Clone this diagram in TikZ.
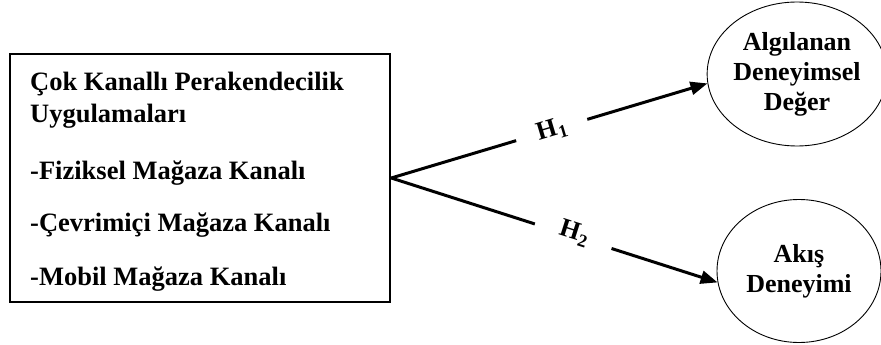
\documentclass[tikz,border=0pt]{standalone}
\usepackage{fontspec}
\setmainfont{Liberation Serif}
\usetikzlibrary{arrows.meta,shapes.geometric,calc}
\tikzset{
  txt/.style={font=\fontsize{26.5}{30}\selectfont\bfseries, inner sep=0pt, anchor=base west},
  boxframe/.style={draw, line width=2.5pt, minimum width=380pt, minimum height=248pt, inner sep=0pt},
  oval/.style={draw, ellipse, line width=0.9pt, inner sep=0pt, align=center,
    font=\fontsize{26}{30}\selectfont\bfseries},
  seg/.style={line width=3pt},
  conn/.style={line width=3pt, -{Triangle[length=17pt,width=13pt]}},
  hlab/.style={sloped, inner sep=0pt, font=\fontsize{26}{30}\selectfont\bfseries}
}
\newcommand{\hsub}[1]{H\kern0.5pt\raisebox{-5pt}{\fontsize{18}{18}\selectfont #1}}
\begin{document}
\begin{tikzpicture}[x=1pt,y=-1pt]
\useasboundingbox (0,0) rectangle (881,345);
\node[boxframe] (box) at (200,178) {};
\node[txt] (t1) at (30,90) {Çok Kanallı Perakendecilik};
\node[txt] (t2) at (30,122) {Uygulamaları};
\node[txt] (t3) at (30,179) {-Fiziksel Mağaza Kanalı};
\node[txt] (t4) at (30,231) {-Çevrimiçi Mağaza Kanalı};
\node[txt] (t5) at (30,285) {-Mobil Mağaza Kanalı};
\node[oval, minimum width=168pt, minimum height=144pt] (e1) at (797,74) {Algılanan\\Deneyimsel\\Değer};
\node[oval, minimum width=164pt, minimum height=143pt] (e2) at (799,271) {Akış\\Deneyimi};
\coordinate (g1a) at ($(box.east)!0.395!(e1.186)$);
\coordinate (g1b) at ($(box.east)!0.62!(e1.186)$);
\coordinate (g2a) at ($(box.east)!0.44!(e2.188)$);
\coordinate (g2b) at ($(box.east)!0.675!(e2.188)$);
\draw[seg] (box.east) -- (g1a);
\draw[conn] (g1b) -- (e1.186);
\draw[seg] (box.east) -- (g2a);
\draw[conn] (g2b) -- (e2.188);
\path (g1a) -- node[hlab] (h1) {\hsub{1}} (g1b);
\path (g2a) -- node[hlab, yshift=3pt] (h2) {\hsub{2}} (g2b);
\end{tikzpicture}
\end{document}
